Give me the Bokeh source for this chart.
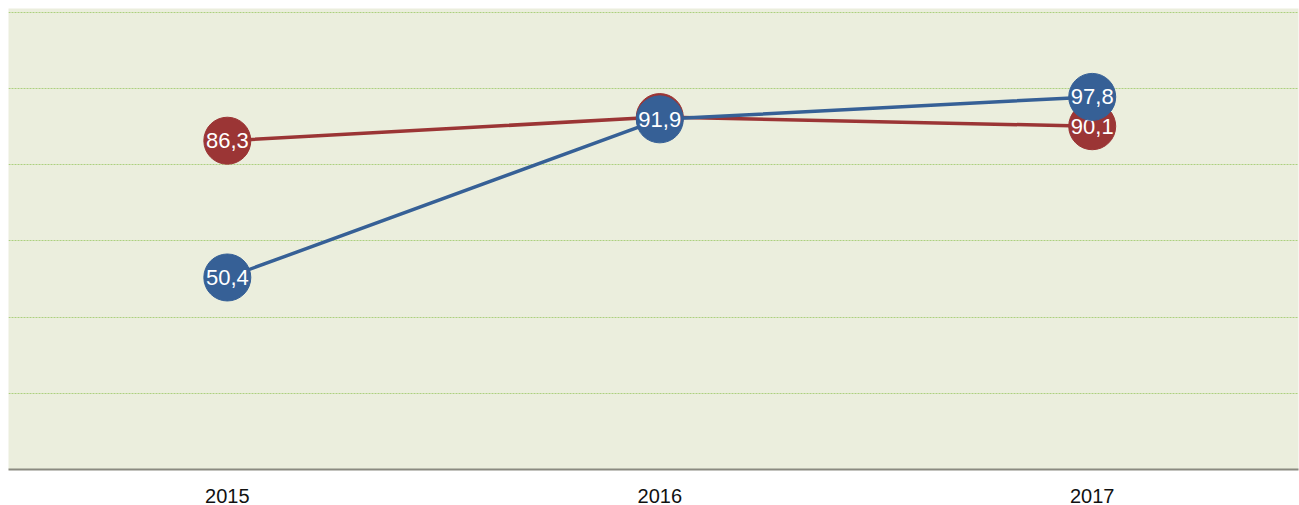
from bokeh.plotting import figure
from bokeh.models import Range1d, FixedTicker, ColumnDataSource
from bokeh.core.properties import value
from bokeh.embed import file_html
from bokeh.resources import INLINE

years = [2015, 2016, 2017]
year_labels = ["2015", "2016", "2017"]
red_values = [86.3, 92.5, 90.1]
blue_values = [50.4, 91.9, 97.8]
red_labels = ["86,3", "92,5", "90,1"]
blue_labels = ["50,4", "91,9", "97,8"]

RED = "#9b3535"
BLUE = "#366096"

p = figure(width=1299, height=505, output_backend="svg", toolbar_location=None,
           x_range=Range1d(2014.494, 2017.477), y_range=Range1d(0, 121),
           min_border_left=8, min_border_right=1, min_border_top=8, min_border_bottom=36)
p.outline_line_color = None
p.background_fill_color = "#ebeedd"
p.border_fill_color = "white"

p.yaxis.visible = False
p.xgrid.visible = False
p.ygrid.ticker = FixedTicker(ticks=[20, 40, 60, 80, 100, 120])
p.ygrid.grid_line_color = "#acd07f"
p.ygrid.grid_line_dash = "2 1"
p.ygrid.grid_line_width = 1

p.xaxis.ticker = FixedTicker(ticks=years)
p.xaxis.major_label_overrides = {y: l for y, l in zip(years, year_labels)}
p.xaxis.major_tick_line_color = None
p.xaxis.minor_tick_line_color = None
p.xaxis.axis_line_color = "#8a8a80"
p.xaxis.axis_line_width = 2
p.xaxis.major_label_standoff = 13
p.xaxis.major_label_text_font = "Liberation Sans"
p.xaxis.major_label_text_font_size = "20px"
p.xaxis.major_label_text_color = "#111111"

red = ColumnDataSource(dict(x=years, y=red_values, t=red_labels))
blue = ColumnDataSource(dict(x=years, y=blue_values, t=blue_labels))

p.line("x", "y", source=red, line_color=RED, line_width=3.5)
p.scatter("x", "y", source=red, size=47, fill_color=RED, line_color=RED)
p.text("x", "y", text="t", source=red, text_color="white", text_align="center",
       text_baseline="middle", text_font=value("Liberation Sans"), text_font_size="22px")
p.line("x", "y", source=blue, line_color=BLUE, line_width=3.5)
p.scatter("x", "y", source=blue, size=47, fill_color=BLUE, line_color=BLUE)
p.text("x", "y", text="t", source=blue, text_color="white", text_align="center",
       text_baseline="middle", text_font=value("Liberation Sans"), text_font_size="22px")

open("out.html", "w").write(file_html(p, INLINE))
